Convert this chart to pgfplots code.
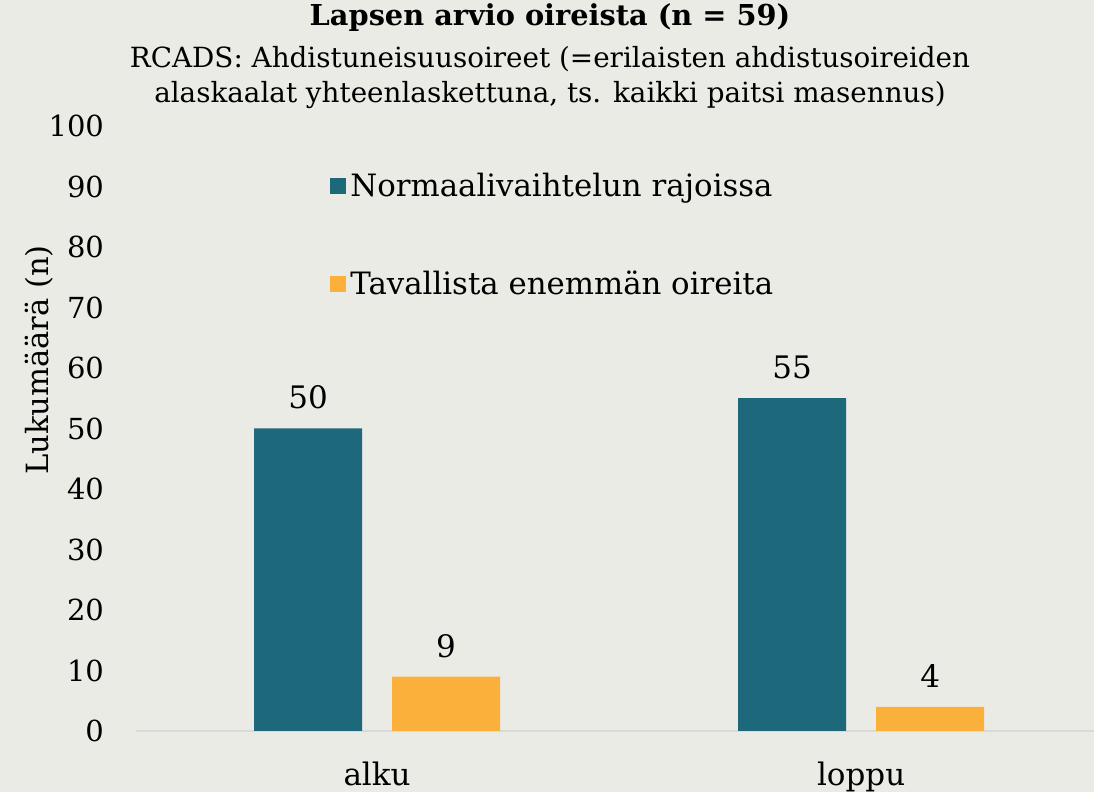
\documentclass[border=0pt]{standalone}
\usepackage{fontspec}
\setmainfont{DejaVu Serif}
\usepackage{pgfplots}
\pgfplotsset{compat=1.18}
\definecolor{bgc}{HTML}{EBEBE5}
\definecolor{teal1}{HTML}{1E687C}
\definecolor{orng}{HTML}{FBB03C}
\definecolor{axgray}{HTML}{D9D9D9}

\begin{document}
\begin{tikzpicture}
\fill[bgc] (0,0) rectangle (547pt,396pt);
\useasboundingbox (0,0) rectangle (547pt,396pt);
\begin{axis}[
  at={(68pt,30.5pt)}, anchor=south west,
  scale only axis,
  width=479pt, height=302.5pt,
  ybar=15pt, bar width=54pt,
  xmin=-0.498, xmax=1.481,
  ymin=0, ymax=100,
  ytick={0,10,...,100},
  xtick=data, xticklabels={alku,loppu},
  axis x line*=bottom,
  axis y line*=left,
  x axis line style={draw=axgray, line width=1pt},
  y axis line style={draw=none},
  major tick length=0pt,
  /pgf/number format/assume math mode=true,
  yticklabel style={font=\fontsize{14.5}{16}\selectfont, xshift=-12.5pt},
  xticklabel style={font=\fontsize{15.5}{17}\selectfont, yshift=-12pt},
  nodes near coords,
  nodes near coords style={font=\fontsize{15.5}{17}\selectfont, black, yshift=6pt},
  legend style={at={(0.2025,0.93)}, anchor=north west, draw=none, fill=none,
    font=\fontsize{15.4}{18}\selectfont, row sep=32pt, inner sep=0pt,
    /tikz/every even column/.append style={column sep=6.5pt}},
  legend cell align=left,
  legend image code/.code={\fill[#1] (0pt,-4pt) rectangle (8pt,4pt);},
]
\addplot[fill=teal1, draw=none] coordinates {(0,50) (1,55)};
\addlegendentry{Normaalivaihtelun rajoissa}
\addplot[fill=orng, draw=none] coordinates {(0,9) (1,4)};
\addlegendentry{Tavallista enemmän oireita}
\end{axis}
\node[font=\bfseries\fontsize{14.4}{16}\selectfont] at (275pt,387pt) {Lapsen arvio oireista (n = 59)};
\node[font=\fontsize{13.9}{17.5}\selectfont, align=center, anchor=north] at (275pt,376.5pt)
  {RCADS: Ahdistuneisuusoireet (=erilaisten ahdistusoireiden\\alaskaalat yhteenlaskettuna, ts. kaikki paitsi masennus)};
\node[rotate=90, font=\fontsize{15.3}{16}\selectfont] at (19.5pt,216pt) {Lukumäärä (n)};
\end{tikzpicture}
\end{document}
